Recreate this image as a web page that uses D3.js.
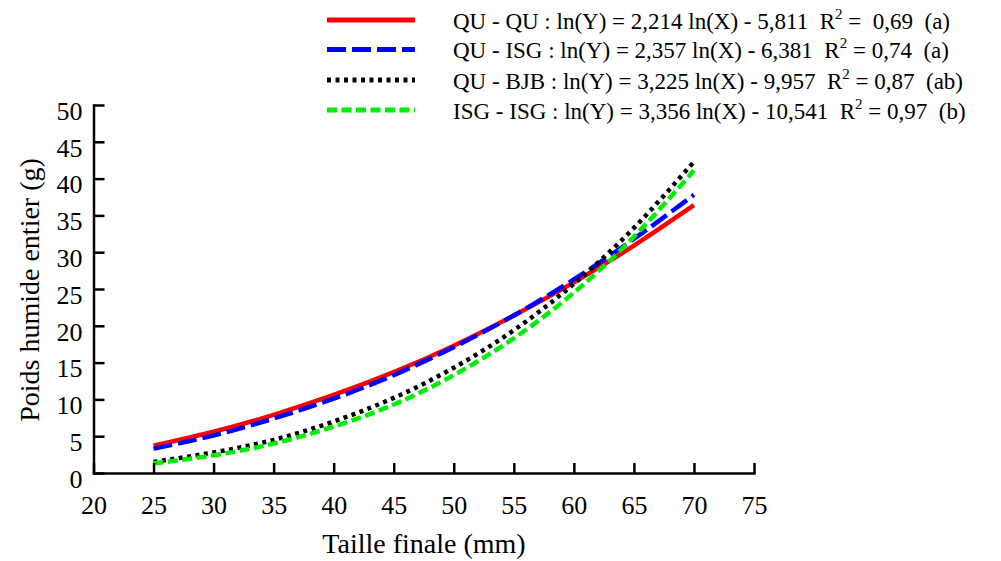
<!DOCTYPE html>
<html lang="fr">
<head>
    <meta charset="UTF-8">
    <title>Poids humide entier vs taille finale</title>
    <script src="https://d3js.org/d3.v7.min.js"></script>
    <style>
        body {
            margin: 0;
            background: #fff;
        }
    </style>
</head>
<body>
    <div id="container"></div>

    <script>
        // Values (every 5 mm)
        const sizes = [25, 30, 35, 40, 45, 50, 55, 60, 65, 70];
        const quQu = [3.7, 5.6, 7.9, 10.6, 13.7, 17.3, 21.4, 25.9, 30.9, 36.4];
        const quIsg = [3.3, 5.1, 7.4, 10.1, 13.3, 17.1, 21.4, 26.3, 31.8, 37.8];
        const quBjb = [1.5, 2.8, 4.5, 7.0, 10.2, 14.3, 19.4, 25.7, 33.3, 42.3];
        const isgIsg = [1.3, 2.4, 4.0, 6.3, 9.3, 13.3, 18.3, 24.5, 32.1, 41.1];

        const xTicks = [20, 25, 30, 35, 40, 45, 50, 55, 60, 65, 70, 75];
        const yTicks = [0, 5, 10, 15, 20, 25, 30, 35, 40, 45, 50];

        const seriesNames = ['QU - QU', 'QU - ISG', 'QU - BJB', 'ISG - ISG'];
        const equations = [
            ' : ln(Y) = 2,214 ln(X) - 5,811  R',
            ' : ln(Y) = 2,357 ln(X) - 6,381  R',
            ' : ln(Y) = 3,225 ln(X) - 9,957  R',
            ' : ln(Y) = 3,356 ln(X) - 10,541  R'
        ];
        const r2Labels = [' =  0,69  (a)', ' = 0,74  (a)', ' = 0,87  (ab)', ' = 0,97  (b)'];

        const series = [
            { values: quQu, color: '#ff0000', dash: null },
            { values: quIsg, color: '#0000ff', dash: '19,6' },
            { values: quBjb, color: '#000000', dash: '4,4.5' },
            { values: isgIsg, color: '#00ee00', dash: '10,4.5' }
        ];

        const font = 'Liberation Serif';

        const svg = d3.select('#container').append('svg')
            .attr('width', 1001)
            .attr('height', 561);

        const x = d3.scaleLinear().domain([20, 75]).range([93.5, 754]);
        const y = d3.scaleLinear().domain([0, 50]).range([473, 105]);

        // curves
        const line = d3.line()
            .x((d, i) => x(sizes[i]))
            .y(d => y(d))
            .curve(d3.curveNatural);

        svg.selectAll('.curve')
            .data(series)
            .enter()
            .append('path')
            .attr('class', 'curve')
            .attr('d', d => line(d.values))
            .attr('fill', 'none')
            .attr('stroke', d => d.color)
            .attr('stroke-width', 4.5)
            .attr('stroke-dasharray', d => d.dash);

        // axes, ticks pointing inside
        const xAxis = svg.append('g')
            .attr('transform', `translate(0,${y(0)})`)
            .call(d3.axisBottom(x).tickValues(xTicks).tickSizeInner(-10).tickSizeOuter(0).tickPadding(23));

        const yAxis = svg.append('g')
            .attr('transform', `translate(${x(20)},0)`)
            .call(d3.axisLeft(y).tickValues(yTicks).tickSizeInner(-11).tickSizeOuter(0).tickPadding(11));

        [xAxis, yAxis].forEach(ax => {
            ax.attr('font-family', font).attr('font-size', 26);
            ax.selectAll('path, line')
                .attr('stroke', '#000')
                .attr('stroke-width', 2.5);
            ax.select('.domain').attr('stroke-linecap', 'square');
            ax.selectAll('text')
                .attr('font-family', font)
                .attr('font-size', 26)
                .attr('fill', '#000');
        });
        // labels sit a little below their ticks in the original
        yAxis.selectAll('text').attr('dy', '0.55em');

        // axis titles
        svg.append('text')
            .attr('x', 424)
            .attr('y', 553)
            .attr('text-anchor', 'middle')
            .attr('font-family', font)
            .attr('font-size', 28)
            .text('Taille finale (mm)');

        svg.append('text')
            .attr('transform', 'translate(39,290) rotate(-90)')
            .attr('text-anchor', 'middle')
            .attr('font-family', font)
            .attr('font-size', 28)
            .text('Poids humide entier (g)');

        // legend
        const legend = svg.append('g');
        const rowY = [20, 49.5, 80, 110];

        series.forEach((s, i) => {
            legend.append('line')
                .attr('x1', 327)
                .attr('x2', 415)
                .attr('y1', rowY[i])
                .attr('y2', rowY[i])
                .attr('stroke', s.color)
                .attr('stroke-width', 5)
                .attr('stroke-dasharray', s.dash);

            const t = legend.append('text')
                .attr('x', 453)
                .attr('y', rowY[i] + 8.5)
                .attr('font-family', font)
                .attr('font-size', 23)
                .style('white-space', 'pre');
            t.append('tspan').text(seriesNames[i] + equations[i]);
            t.append('tspan').attr('dy', -10).attr('font-size', 15).text('2');
            t.append('tspan').attr('dy', 10).text(r2Labels[i]);
        });
    </script>
</body>
</html>
